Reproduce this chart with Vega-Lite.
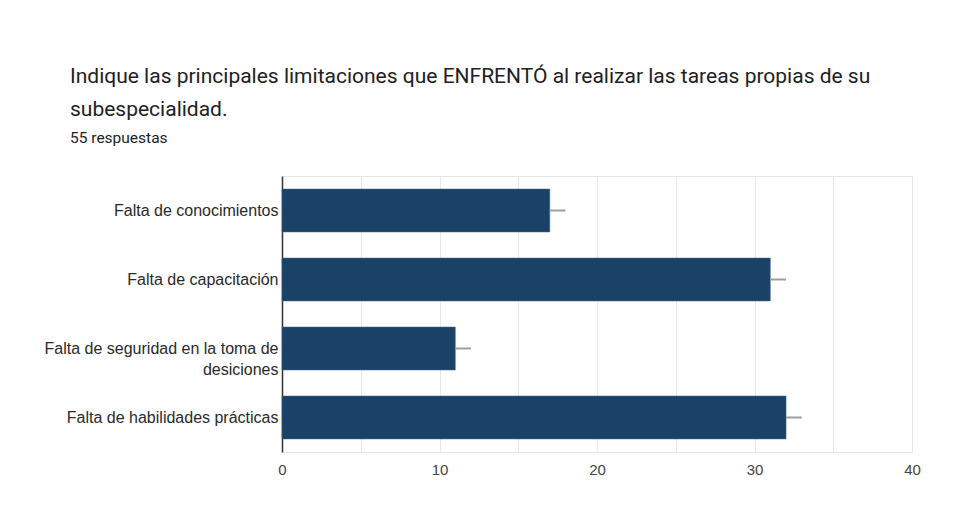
{
  "$schema": "https://vega.github.io/schema/vega-lite/v6.json",
  "width": 630,
  "height": 276,
  "autosize": {"type": "none"},
  "padding": {"left": 282, "top": 176, "right": 68, "bottom": 64},
  "background": "white",
  "title": {
    "text": ["Indique las principales limitaciones que ENFRENTÓ al realizar las tareas propias de su", "subespecialidad."],
    "subtitle": "55 respuestas",
    "anchor": "start",
    "frame": "group",
    "dx": -212,
    "offset": 30,
    "font": "Roboto",
    "fontSize": 21,
    "fontWeight": "normal",
    "color": "#202124",
    "lineHeight": 33,
    "subtitleFont": "Roboto",
    "subtitleFontSize": 15.5,
    "subtitleColor": "#202124",
    "subtitlePadding": 11
  },
  "config": {
    "view": {"stroke": "#e6e6e6", "strokeWidth": 1},
    "axis": {"labelFont": "Liberation Sans", "titleFont": "Liberation Sans"}
  },
  "data": {
    "values": [
      {"limitacion": "Falta de conocimientos", "respuestas": 17, "extremo": 18},
      {"limitacion": "Falta de capacitación", "respuestas": 31, "extremo": 32},
      {"limitacion": "Falta de seguridad en la toma de desiciones", "respuestas": 11, "extremo": 12},
      {"limitacion": "Falta de habilidades prácticas", "respuestas": 32, "extremo": 33}
    ]
  },
  "encoding": {
    "y": {
      "field": "limitacion",
      "type": "nominal",
      "sort": null,
      "title": null,
      "scale": {"paddingInner": 0.38, "paddingOuter": 0.19},
      "axis": {
        "ticks": false,
        "domainColor": "#333333",
        "domainWidth": 1.5,
        "labelFontSize": 16,
        "labelColor": "#2a2a2a",
        "labelPadding": 4,
        "labelLimit": 300,
        "labelLineHeight": 21,
        "labelExpr": "indexof(datum.label, 'toma de') > 0 ? ['Falta de seguridad en la toma de', 'desiciones'] : datum.label"
      }
    }
  },
  "layer": [
    {
      "mark": {"type": "bar", "color": "#1a4166", "stroke": "#3a5f85", "strokeWidth": 0.6},
      "encoding": {
        "x": {
          "field": "respuestas",
          "type": "quantitative",
          "title": null,
          "scale": {"domain": [0, 40], "nice": false},
          "axis": {
            "values": [0, 5, 10, 15, 20, 25, 30, 35, 40],
            "labelExpr": "datum.value % 10 === 0 ? datum.label : ''",
            "labelFlush": false,
            "ticks": false,
            "domain": false,
            "gridColor": "#e8e8e8",
            "labelFontSize": 15,
            "labelColor": "#444444",
            "labelPadding": 10
          }
        }
      }
    },
    {
      "mark": {"type": "rule", "color": "#9e9e9e", "strokeWidth": 2},
      "encoding": {
        "x": {"field": "respuestas", "type": "quantitative"},
        "x2": {"field": "extremo"}
      }
    }
  ]
}
